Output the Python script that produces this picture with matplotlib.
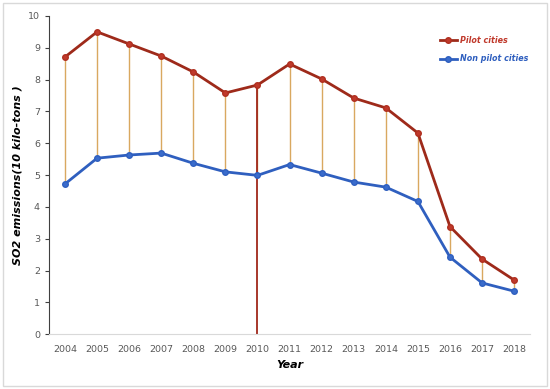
import matplotlib.pyplot as plt
from matplotlib.patches import Rectangle

years = [2004, 2005, 2006, 2007, 2008, 2009, 2010, 2011, 2012, 2013, 2014, 2015, 2016, 2017, 2018]
pilot = [8.71, 9.50, 9.12, 8.74, 8.24, 7.58, 7.83, 8.49, 8.02, 7.42, 7.11, 6.32, 3.38, 2.36, 1.70]
non_pilot = [4.72, 5.53, 5.63, 5.69, 5.37, 5.10, 4.99, 5.33, 5.06, 4.78, 4.62, 4.17, 2.42, 1.61, 1.35]
policy_year = 2010

fig = plt.figure(figsize=(5.5, 3.89), dpi=100)
ax = fig.add_axes([0.089, 0.141, 0.875, 0.818])

# frame round the whole chart
fig.patches.append(Rectangle((0.006, 0.008), 0.988, 0.984, transform=fig.transFigure,
                             fill=False, edgecolor='#d9d9d9', linewidth=1))

# drop lines between the two series
ax.vlines(years, non_pilot, pilot, color='#d9a860', linewidth=1, zorder=1)
# policy year line
i = years.index(policy_year)
ax.vlines(policy_year, 0, pilot[i], color='#a0281a', linewidth=1.3, zorder=2)

ax.plot(years, pilot, color='#9e2a1a', linewidth=2, marker='o', markersize=4,
        markerfacecolor='#c0392b', markeredgecolor='#b03020', label='Pilot cities', zorder=3)
ax.plot(years, non_pilot, color='#2f5fbf', linewidth=2, marker='o', markersize=4,
        markerfacecolor='#3a6ccc', markeredgecolor='#2f5fbf', label='Non pilot cities', zorder=3)

ax.set_xlim(2003.5, 2018.5)
ax.set_ylim(0, 10)
ax.set_xticks(years)
ax.set_yticks(range(0, 11))
ax.tick_params(axis='x', length=0, labelsize=6.8, colors='#595959', pad=8)
ax.tick_params(axis='y', length=3, labelsize=6.8, colors='#595959', direction='out')
ax.tick_params(axis='y', color='#404040')

for s in ['top', 'right']:
    ax.spines[s].set_visible(False)
ax.spines['left'].set_color('#404040')
ax.spines['bottom'].set_color('#d9d9d9')

ax.set_xlabel('Year', fontsize=8, fontweight='bold', fontstyle='italic', labelpad=4)
ax.set_ylabel('SO2 emissions(10 kilo-tons )', fontsize=8, fontweight='bold', fontstyle='italic')

leg = ax.legend(loc='upper left', bbox_to_anchor=(0.805, 0.948), frameon=False,
                handlelength=2.2, handletextpad=0.3, labelspacing=1.2, borderaxespad=0,
                prop={'weight': 'bold', 'style': 'italic', 'size': 5.8})
leg.get_texts()[0].set_color('#c0392b')
leg.get_texts()[1].set_color('#2f5fbf')

plt.savefig('out.png', dpi=100)
